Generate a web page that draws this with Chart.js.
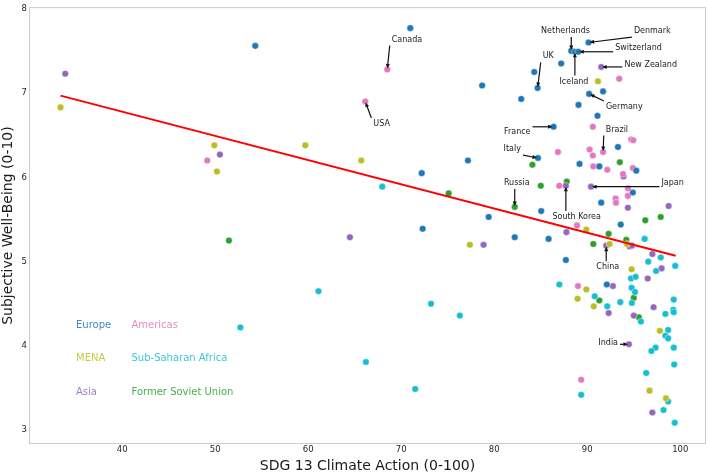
<!DOCTYPE html>
<html><head><meta charset="utf-8">
<script src="https://cdn.jsdelivr.net/npm/chart.js@4.4.1/dist/chart.umd.min.js"></script>
<style>html,body{margin:0;padding:0;background:#fff}#wrap{width:708px;height:475px}</style>
</head><body><div id="wrap"><canvas id="c" width="708" height="475"></canvas></div>
<script>
// ---- tick labels ----
const xTicks = [40, 50, 60, 70, 80, 90, 100];
const yTicks = [3, 4, 5, 6, 7, 8];

// ---- categories ----
const regions = ["Europe", "Americas", "MENA", "Sub-Saharan Africa", "Asia", "Former Soviet Union"];
const regionColors = ["#1f77b4", "#e377c2", "#bcbd22", "#17becf", "#9467bd", "#2ca02c"];

// ---- series values: SDG13 score (x) and well-being (y) ----
const europeX = [54.3, 70.97, 78.7, 77.17, 72.2, 79.4, 72.3, 90.14, 88.28, 88.67, 89.03, 87.2, 84.3, 84.66, 90.2, 91.7, 82.9, 89.06, 91.1, 86.38, 93.3, 84.7, 89.17, 91.3, 95.27, 94.9, 91.5, 93.6, 85.05, 82.2, 85.84, 87.7, 92.1];
const europeY = [7.56, 7.77, 7.09, 6.20, 6.05, 5.53, 5.39, 7.60, 7.50, 7.49, 7.49, 7.35, 7.25, 7.06, 6.99, 7.02, 6.93, 6.86, 6.73, 6.60, 6.36, 6.23, 6.16, 6.13, 6.08, 5.82, 5.70, 5.44, 5.60, 5.29, 5.27, 5.02, 4.73];

const americasX = [68.5, 66.13, 49.14, 93.44, 90.6, 91.7, 94.73, 94.95, 86.85, 90.25, 90.6, 90.65, 92.15, 94.9, 93.84, 94.37, 94.37, 93.05, 93.09, 86.99, 88.9, 89.0, 89.35];
const americasY = [7.28, 6.90, 6.20, 7.17, 6.60, 6.30, 6.45, 6.44, 6.30, 6.33, 6.26, 6.13, 6.09, 6.11, 6.04, 5.87, 5.78, 5.75, 5.70, 5.90, 5.43, 4.71, 3.60];

const menaX = [33.36, 49.9, 50.18, 59.68, 65.7, 77.38, 91.15, 89.9, 92.4, 94.26, 94.77, 89.9, 88.96, 90.7, 97.8, 96.7, 98.46];
const menaY = [6.83, 6.38, 6.07, 6.38, 6.20, 5.20, 7.14, 5.38, 5.21, 5.21, 4.91, 4.67, 4.56, 4.47, 4.18, 3.47, 3.38];

const ssaX = [61.1, 52.7, 73.2, 76.3, 66.2, 71.5, 67.96, 96.17, 97.9, 96.56, 99.46, 97.4, 94.7, 95.2, 87.0, 94.77, 95.13, 90.8, 99.3, 93.55, 94.8, 92.15, 99.25, 99.3, 98.4, 95.77, 98.7, 98.4, 98.7, 99.3, 97.35, 96.9, 99.35, 96.34, 89.35, 98.7, 98.2, 99.4];
const ssaY = [4.65, 4.22, 4.50, 4.36, 3.81, 3.49, 5.89, 5.27, 5.05, 5.00, 4.95, 4.89, 4.80, 4.82, 4.73, 4.69, 4.64, 4.59, 4.55, 4.52, 4.51, 4.47, 4.43, 4.40, 4.38, 4.29, 4.19, 4.12, 4.09, 3.98, 3.98, 3.94, 3.78, 3.68, 3.42, 3.34, 3.24, 3.09];

const asiaX = [33.87, 50.5, 64.48, 78.85, 91.5, 93.9, 90.4, 94.37, 98.75, 87.7, 87.76, 92.04, 94.55, 94.8, 97.0, 97.99, 96.5, 92.76, 97.13, 92.3, 95.0, 94.48, 97.0];
const asiaY = [7.23, 6.27, 5.29, 5.20, 7.31, 6.01, 5.89, 5.64, 5.66, 5.90, 5.35, 5.19, 5.18, 5.19, 5.09, 4.92, 4.80, 4.71, 4.46, 4.39, 4.36, 4.02, 3.21];

const fsuX = [51.47, 75.1, 93.5, 84.1, 82.2, 85.0, 87.8, 97.9, 96.24, 92.3, 94.2, 90.65, 95.0, 91.3, 95.55];
const fsuY = [5.25, 5.81, 6.18, 6.15, 5.65, 5.90, 5.95, 5.53, 5.49, 5.33, 5.26, 5.21, 4.57, 4.54, 4.34];

// ---- regression line end points ----
const trendX = [33.36, 99.5];
const trendY = [6.97, 5.07];

// ---- country annotations: label, label centre, and the country point ----
const annLabels = ["Canada", "USA", "Netherlands", "Denmark", "Switzerland", "New Zealand", "UK", "Iceland", "Germany", "France", "Brazil", "Italy", "Russia", "South Korea", "Japan", "China", "India"];
const annTextX = [70.61, 67.89, 87.66, 96.99, 95.51, 96.82, 85.81, 88.57, 93.98, 82.47, 93.19, 81.94, 82.42, 88.86, 99.18, 92.2, 92.25];
const annTextY = [7.635, 6.634, 7.737, 7.734, 7.537, 7.333, 7.435, 7.137, 6.834, 6.539, 6.568, 6.336, 5.932, 5.531, 5.932, 4.934, 4.035];
const annPointX = [68.5, 66.13, 88.28, 90.14, 89.03, 91.5, 84.66, 88.67, 90.2, 86.38, 91.7, 84.7, 82.2, 87.7, 90.4, 92.04, 94.48];
const annPointY = [7.28, 6.90, 7.50, 7.60, 7.49, 7.31, 7.06, 7.49, 6.99, 6.60, 6.30, 6.23, 5.65, 5.90, 5.89, 5.19, 4.02];

const seriesX = [europeX, americasX, menaX, ssaX, asiaX, fsuX];
const seriesY = [europeY, americasY, menaY, ssaY, asiaY, fsuY];

const FONT = '"DejaVu Sans", "Liberation Sans", sans-serif';

const datasets = [{
  type: 'line',
  label: 'trend',
  data: trendX.map((x, i) => ({x, y: trendY[i]})),
  borderColor: '#ff0000',
  borderWidth: 2,
  pointRadius: 0,
  fill: false
}];
regions.forEach((r, k) => {
  datasets.push({
    type: 'scatter',
    label: r,
    data: seriesX[k].map((x, i) => ({x, y: seriesY[k][i]})),
    backgroundColor: regionColors[k],
    borderColor: '#ffffff',
    borderWidth: 0.4,
    pointRadius: 3.3,
    pointHoverRadius: 3.3
  });
});

const overlay = {
  id: 'overlay',
  beforeDatasetsDraw(chart) {
    const {ctx, chartArea: a} = chart;
    ctx.save();
    ctx.strokeStyle = '#cccccc';
    ctx.lineWidth = 1;
    ctx.strokeRect(a.left - 0.5, a.top - 0.5, a.right - a.left + 1, a.bottom - a.top + 1);
    ctx.restore();
  },
  afterDatasetsDraw(chart) {
    const {ctx} = chart;
    const sx = chart.scales.x, sy = chart.scales.y;
    ctx.save();
    // legend (text only, coloured)
    ctx.font = '10px ' + FONT;
    ctx.textBaseline = 'middle';
    ctx.textAlign = 'left';
    const legPos = [[76, 325], [131.5, 325], [76, 358.5], [131.5, 358.5], [76, 392.5], [131.5, 392.5]];
    regions.forEach((r, k) => {
      ctx.fillStyle = regionColors[k];
      ctx.globalAlpha = 0.85;
      ctx.fillText(r, legPos[k][0], legPos[k][1]);
    });
    ctx.globalAlpha = 1;
    // annotations
    ctx.font = '8px ' + FONT;
    annLabels.forEach((lab, i) => {
      const tx = sx.getPixelForValue(annTextX[i]);
      const ty = sy.getPixelForValue(annTextY[i]);
      const px = sx.getPixelForValue(annPointX[i]);
      const py = sy.getPixelForValue(annPointY[i]);
      const w = ctx.measureText(lab).width;
      ctx.fillStyle = '#222222';
      ctx.textAlign = 'center';
      ctx.fillText(lab, tx, ty);
      const x0 = tx - w / 2 - 2, x1 = tx + w / 2 + 2, y0 = ty - 6, y1 = ty + 6;
      const ax = Math.min(Math.max(px, x0), x1);
      const ay = Math.min(Math.max(py, y0), y1);
      const dx = px - ax, dy = py - ay;
      const len = Math.hypot(dx, dy);
      if (len < 2) return;
      const ux = dx / len, uy = dy / len;
      const ex = px - ux * 1, ey = py - uy * 1;
      ctx.strokeStyle = '#111111';
      ctx.lineWidth = 1.2;
      ctx.beginPath();
      ctx.moveTo(ax, ay);
      ctx.lineTo(ex - ux * 3, ey - uy * 3);
      ctx.stroke();
      ctx.fillStyle = '#111111';
      ctx.beginPath();
      ctx.moveTo(ex, ey);
      ctx.lineTo(ex - ux * 4.5 - uy * 2, ey - uy * 4.5 + ux * 2);
      ctx.lineTo(ex - ux * 4.5 + uy * 2, ey - uy * 4.5 - ux * 2);
      ctx.closePath();
      ctx.fill();
    });
    ctx.restore();
  }
};

new Chart(document.getElementById('c'), {
  type: 'scatter',
  data: {datasets},
  plugins: [overlay],
  options: {
    responsive: false,
    animation: false,
    devicePixelRatio: 1,
    layout: {autoPadding: false, padding: {top: 5, right: 3, left: 0, bottom: 0}},
    plugins: {legend: {display: false}, tooltip: {enabled: false}},
    scales: {
      x: {
        type: 'linear', min: 30.08, max: 102.66,
        afterFit: s => { s.height = 32; },
        afterBuildTicks: s => { s.ticks = xTicks.map(v => ({value: v})); },
        grid: {display: false, drawTicks: false},
        border: {display: false},
        ticks: {font: {family: FONT, size: 8.5}, color: '#262626', padding: 2},
        title: {display: true, text: 'SDG 13 Climate Action (0-100)', font: {family: FONT, size: 14}, color: '#1a1a1a', padding: {top: 0, bottom: 0}}
      },
      y: {
        type: 'linear', min: 2.849, max: 8.008,
        afterFit: s => { s.width = 30; },
        afterBuildTicks: s => { s.ticks = yTicks.map(v => ({value: v})); },
        grid: {display: false, drawTicks: false},
        border: {display: false},
        ticks: {font: {family: FONT, size: 8.5}, color: '#262626', padding: 3},
        title: {display: true, text: 'Subjective Well-Being (0-10)', font: {family: FONT, size: 14}, color: '#1a1a1a', padding: {top: 0, bottom: 0}}
      }
    }
  }
});
</script>
</body></html>
